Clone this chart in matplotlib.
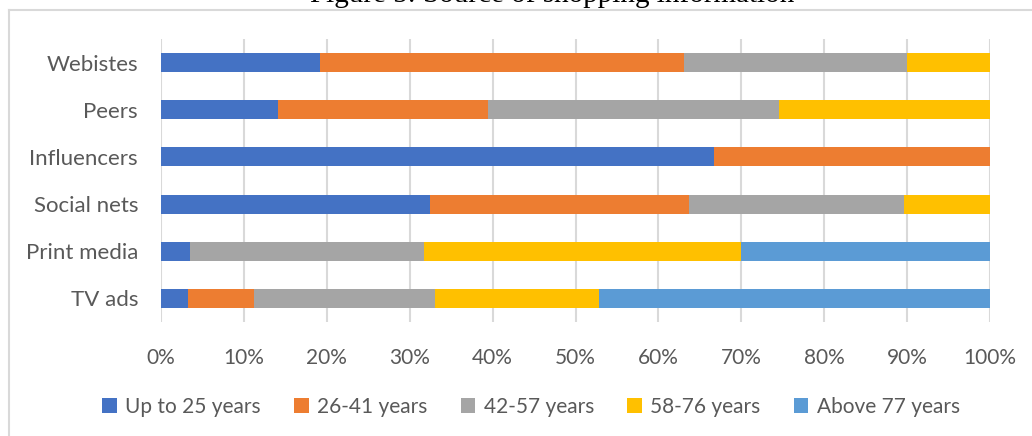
import numpy as np
import matplotlib.pyplot as plt
from matplotlib.lines import Line2D

# Share of respondents per age group for each information source (%)
sources = ["Webistes", "Peers", "Influencers", "Social nets", "Print media", "TV ads"]
age_groups = ["Up to 25 years", "26-41 years", "42-57 years", "58-76 years", "Above 77 years"]
up_to_25 = [19.2, 14.1, 66.7, 32.4, 3.5, 3.3]
y26_41 = [43.9, 25.4, 33.3, 31.3, 0.0, 7.9]
y42_57 = [26.9, 35.1, 0.0, 25.9, 28.2, 21.8]
y58_76 = [10.0, 25.4, 0.0, 10.4, 38.3, 19.8]
above_77 = [0.0, 0.0, 0.0, 0.0, 30.0, 47.2]
colors = ["#4472C4", "#ED7D31", "#A5A5A5", "#FFC000", "#5B9BD5"]

W, H = 1032, 436
fig = plt.figure(figsize=(W / 100, H / 100), dpi=100)
fig.patch.set_facecolor("white")
ax = fig.add_axes([161 / W, 1 - 322 / H, (990 - 161) / W, (322 - 39) / H])

series = [up_to_25, y26_41, y42_57, y58_76, above_77]
ypos = np.arange(len(sources))
left = np.zeros(len(sources))
for vals, col, name in zip(series, colors, age_groups):
    vals = np.array(vals)
    ax.barh(ypos, vals, left=left, height=0.4, color=col, label=name, zorder=3)
    left += vals

ax.set_xlim(0, 100)
ax.set_ylim(len(sources) - 0.5, -0.5)
ax.set_xticks(np.arange(0, 101, 10))
ax.set_xticklabels([f"{t}%" for t in range(0, 101, 10)])
ax.set_yticks(ypos)
ax.set_yticklabels(sources)
ax.grid(axis="x", color="#D9D9D9", linewidth=1.5, zorder=0)
for s in ax.spines.values():
    s.set_visible(False)
ax.tick_params(axis="both", length=0, labelcolor="#595959")
ax.tick_params(axis="x", pad=19, labelsize=15)
ax.tick_params(axis="y", pad=16.5, labelsize=16)
for lab in ax.get_xticklabels() + ax.get_yticklabels():
    lab.set_family("Lato")

# chart border (top and left edge)
fig.add_artist(Line2D([9 / W, 1], [1 - 10 / H, 1 - 10 / H], color="#D9D9D9", lw=1.5))
fig.add_artist(Line2D([9 / W, 9 / W], [0, 1 - 10 / H], color="#D9D9D9", lw=1.5))

fig.text(552 / W, 1 - 2 / H, "Figure 5: Source of shopping information",
         family="Liberation Serif", fontsize=21, ha="center", va="baseline", color="black")

handles, labels = ax.get_legend_handles_labels()
leg = fig.legend(handles, labels, loc="center", bbox_to_anchor=(531 / W, 1 - 407 / H),
                 ncol=5, frameon=False, handlelength=0.7, handleheight=0.7,
                 handletextpad=0.4, columnspacing=1.6,
                 prop={"family": "Lato", "size": 15})
for t in leg.get_texts():
    t.set_color("#595959")

fig.savefig("out.png", dpi=100)
